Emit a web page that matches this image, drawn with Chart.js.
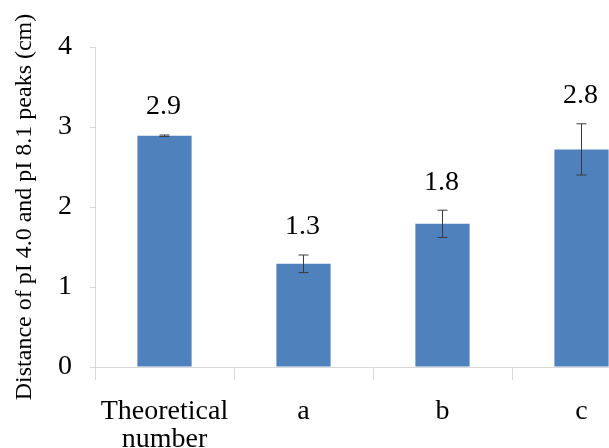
<!DOCTYPE html>
<html>
<head>
<meta charset="utf-8">
<script src="https://cdn.jsdelivr.net/npm/chart.js@4"></script>
<style>
  html, body { margin: 0; padding: 0; background: #fff; overflow: hidden; }
  #wrap { position: relative; width: 651px; height: 448px; }
</style>
</head>
<body>
<div id="wrap"><canvas id="distChart"></canvas></div>
<script>
const categories = [['Theoretical', 'number'], 'a', 'b', 'c'];
const distances = [2.89, 1.29, 1.79, 2.72];
const errors = [0.01, 0.11, 0.17, 0.32];
const valueLabels = ['2.9', '1.3', '1.8', '2.8'];
const yTicks = [0, 1, 2, 3, 4];

const serif = 'Liberation Serif';
const axisGray = '#d9d9d9';

// error bars + the number over each bar
const errorBarPlugin = {
  id: 'errorBars',
  afterDatasetsDraw(chart) {
    const ctx = chart.ctx;
    const y = chart.scales.y;
    const meta = chart.getDatasetMeta(0);
    ctx.save();
    meta.data.forEach((bar, i) => {
      const top = y.getPixelForValue(distances[i] + errors[i]);
      const bot = y.getPixelForValue(distances[i] - errors[i]);
      ctx.strokeStyle = '#3a3a3a';
      ctx.lineWidth = 1;
      ctx.beginPath();
      ctx.moveTo(bar.x, top);
      ctx.lineTo(bar.x, bot);
      ctx.moveTo(bar.x - 5, top);
      ctx.lineTo(bar.x + 5, top);
      ctx.moveTo(bar.x - 5, bot);
      ctx.lineTo(bar.x + 5, bot);
      ctx.stroke();

      ctx.fillStyle = '#000';
      ctx.font = '28px "' + serif + '"';
      ctx.textAlign = 'center';
      ctx.textBaseline = 'middle';
      ctx.fillText(valueLabels[i], bar.x - 1, top - 28);
    });
    ctx.restore();
  }
};

// rotated y title, placed by hand like the original
const yTitlePlugin = {
  id: 'yTitle',
  afterDraw(chart) {
    const ctx = chart.ctx;
    ctx.save();
    ctx.translate(31, 207);
    ctx.rotate(-Math.PI / 2);
    ctx.fillStyle = '#000';
    ctx.font = '24px "' + serif + '"';
    ctx.textAlign = 'center';
    ctx.textBaseline = 'alphabetic';
    ctx.fillText('Distance of pI 4.0 and pI 8.1 peaks (cm)', 0, 0);
    ctx.restore();
  }
};

new Chart(document.getElementById('distChart'), {
  type: 'bar',
  data: {
    labels: categories,
    datasets: [{
      data: distances,
      backgroundColor: '#4f81bd',
      borderWidth: 0,
      barPercentage: 0.78,
      categoryPercentage: 0.5
    }]
  },
  options: {
    responsive: true,
    maintainAspectRatio: false,
    animation: false,
    layout: { padding: { top: 47, left: 0, right: 0, bottom: 0 } },
    plugins: {
      legend: { display: false },
      tooltip: { enabled: false }
    },
    scales: {
      x: {
        grid: { drawOnChartArea: false, tickLength: 13, color: axisGray },
        border: { color: axisGray },
        ticks: {
          color: '#000',
          padding: 18,
          font: { family: serif, size: 28, lineHeight: 1.0 },
          maxRotation: 0
        },
        afterFit(scale) { scale.height = 81; }
      },
      y: {
        min: 0,
        max: 4,
        afterBuildTicks(scale) { scale.ticks = yTicks.map(v => ({ value: v })); },
        grid: { drawOnChartArea: false, tickLength: 5, color: axisGray },
        border: { color: axisGray },
        ticks: {
          color: '#000',
          padding: 18,
          font: { family: serif, size: 28 }
        },
        afterFit(scale) { scale.width = 95; }
      }
    }
  },
  plugins: [errorBarPlugin, yTitlePlugin]
});
</script>
</body>
</html>
